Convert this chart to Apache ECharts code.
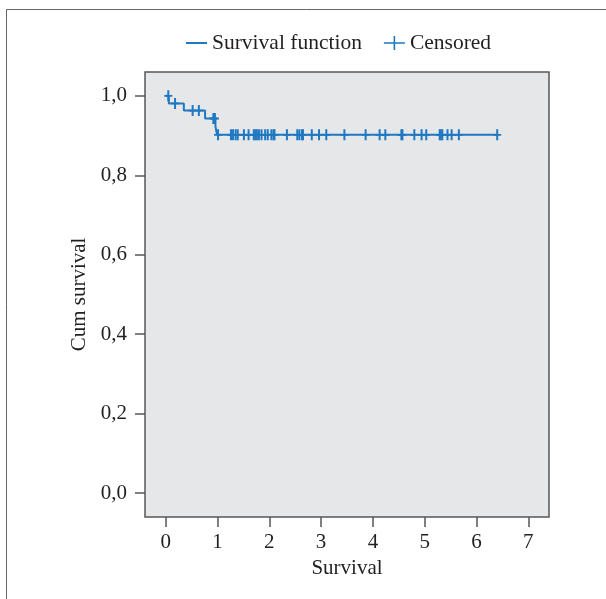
<!DOCTYPE html>
<html>
<head>
<meta charset="utf-8">
<script src="https://cdn.jsdelivr.net/npm/echarts@6/dist/echarts.min.js"></script>
<style>
  html, body { margin: 0; padding: 0; background: #fff; }
  #km { width: 606px; height: 599px; }
</style>
</head>
<body>
<div id="km"></div>
<script>
// Kaplan-Meier steps
const eventTimes = [0.06, 0.35, 0.76, 0.96, 0.99];
const survivalLevels = [0.981, 0.963, 0.943, 0.923, 0.902];
const lastTime = 6.40;

// censored observations (time)
const censoredTimes = [
  0.05, 0.18, 0.52, 0.64, 0.92, 0.95,
  1.01, 1.26, 1.30, 1.35, 1.39, 1.51, 1.60, 1.70, 1.73, 1.76, 1.80, 1.85,
  1.92, 1.97, 2.04, 2.08, 2.10, 2.34, 2.54, 2.58, 2.63, 2.65, 2.82, 2.96,
  3.10, 3.45, 3.86, 4.13, 4.24, 4.55, 4.57, 4.80, 4.94, 5.03, 5.29, 5.31,
  5.34, 5.44, 5.52, 5.66, 6.40
];

const xTicks = [0, 1, 2, 3, 4, 5, 6, 7];
const yTicks = [0, 0.2, 0.4, 0.6, 0.8, 1.0];

const blue = "#1f78c1";
const ink = "#231f20";
const frame = "#575757";
const serif = "Liberation Serif";

function levelAt(t) {
  let s = 1;
  eventTimes.forEach((e, i) => {
    if (e <= t) s = survivalLevels[i];
  });
  return s;
}

const curve = [[0, 1]];
eventTimes.forEach((t, i) => curve.push([t, survivalLevels[i]]));
curve.push([lastTime, survivalLevels[survivalLevels.length - 1]]);

const censored = censoredTimes.map((t) => [t, levelAt(t)]);

const plusMark = "path://M3,0 H5 V4.6 H8 V6.4 H5 V11 H3 V6.4 H0 V4.6 H3 Z";

const chart = echarts.init(document.getElementById("km"), null, { renderer: "canvas" });

const option = {
  animation: false,
  graphic: [
    {
      type: "rect",
      shape: { x: 6.5, y: 9.5, width: 800, height: 800 },
      style: { fill: "none", stroke: "#666", lineWidth: 1 },
      silent: true,
    },
  ],
  legend: {
    left: 186,
    top: 32,
    padding: 0,
    itemWidth: 21,
    itemHeight: 20,
    itemGap: 22,
    textStyle: { fontFamily: serif, fontSize: 21.5, color: ink },
    data: [
      { name: "Survival function", icon: "path://M0,0 H21 V2 H0 Z" },
      { name: "Censored", icon: "path://M9.7,0 H11.3 V6.2 H21 V7.8 H11.3 V14 H9.7 V7.8 H0 V6.2 H9.7 Z" },
    ],
  },
  grid: {
    left: 145,
    top: 72,
    right: 57,
    bottom: 82,
    show: true,
    backgroundColor: "#e6e7e9",
    borderColor: frame,
    borderWidth: 1.5,
  },
  xAxis: {
    type: "value",
    min: -0.4,
    max: 7.4,
    name: "Survival",
    nameLocation: "middle",
    nameGap: 34,
    nameTextStyle: { fontFamily: serif, fontSize: 21, color: ink },
    axisLine: { show: false, onZero: false },
    splitLine: { show: false },
    axisTick: {
      show: true,
      inside: false,
      length: 10,
      customValues: xTicks,
      lineStyle: { color: frame, width: 1.5 },
    },
    axisLabel: {
      customValues: xTicks,
      margin: 15,
      fontFamily: serif,
      fontSize: 21,
      color: ink,
    },
  },
  yAxis: {
    type: "value",
    min: -0.06,
    max: 1.06,
    name: "Cum survival",
    nameLocation: "middle",
    nameGap: 54,
    nameTextStyle: { fontFamily: serif, fontSize: 21, color: ink },
    axisLine: { show: false, onZero: false },
    splitLine: { show: false },
    axisTick: {
      show: true,
      inside: false,
      length: 10,
      customValues: yTicks,
      lineStyle: { color: frame, width: 1.5 },
    },
    axisLabel: {
      customValues: yTicks,
      margin: 18,
      fontFamily: serif,
      fontSize: 21,
      color: ink,
      formatter: (v) => v.toFixed(1).replace(".", ","),
    },
  },
  series: [
    {
      name: "Survival function",
      type: "line",
      step: "end",
      showSymbol: false,
      data: curve,
      lineStyle: { color: blue, width: 2 },
      itemStyle: { color: blue },
      z: 2,
    },
    {
      name: "Censored",
      type: "scatter",
      symbol: plusMark,
      symbolSize: [8, 11],
      data: censored,
      itemStyle: { color: blue, opacity: 1 },
      z: 3,
    },
  ],
};

chart.setOption(option);
</script>
</body>
</html>
